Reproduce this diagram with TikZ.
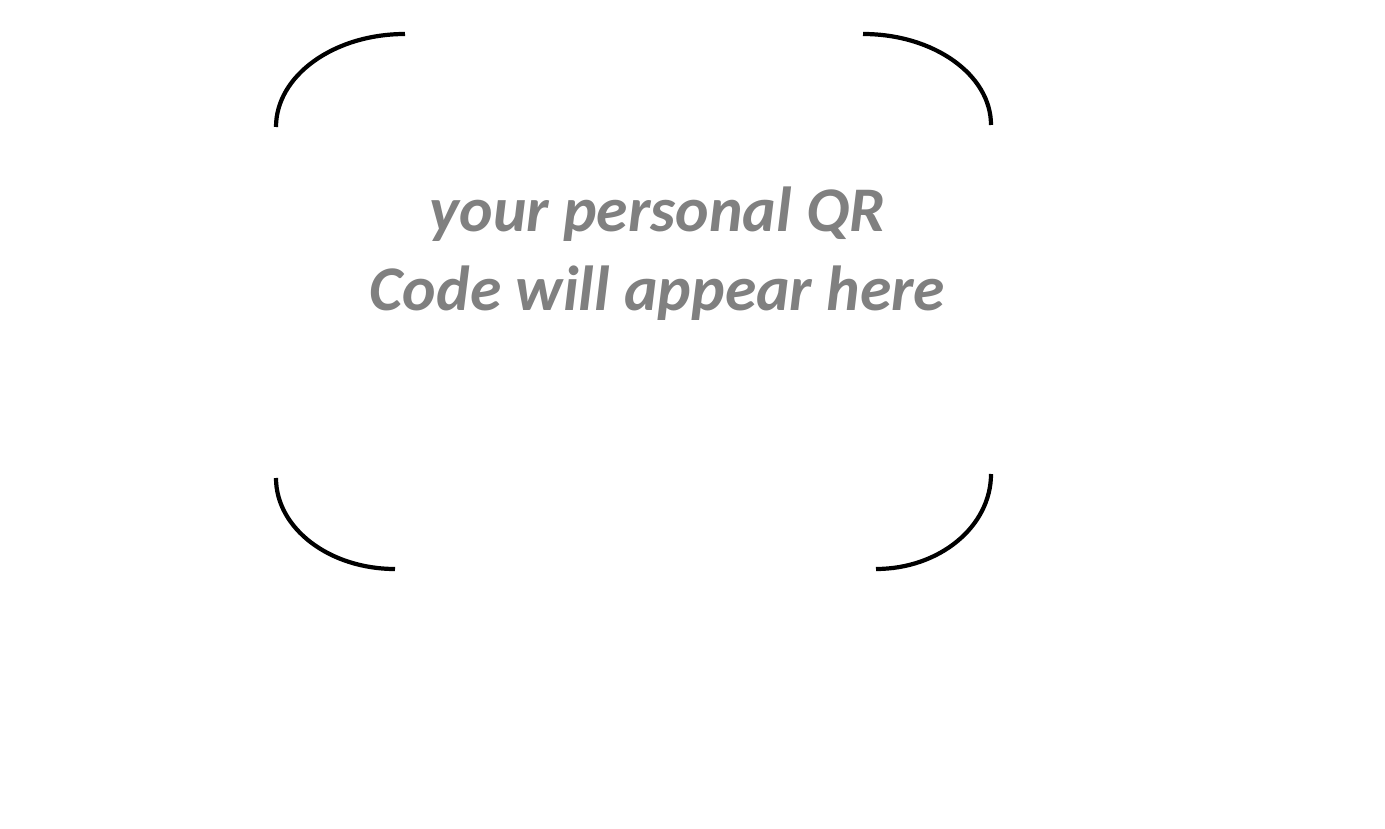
\documentclass[tikz,border=0pt]{standalone}
\usepackage{fontspec}
\setmainfont{Carlito}
\usepackage{tikz}

\begin{document}
\begin{tikzpicture}[corner/.style = {draw, line width=1.2pt},
                    label/.style = {text=black!50, font=\fontsize{18.1}{22.4}\selectfont\bfseries\itshape, align=center}]
                        \useasboundingbox (0,0) rectangle (13.85,8.28);

                        \coordinate (TL) at (2.76,7.01);
                        \coordinate (TR) at (8.63,7.94);
                        \coordinate (BR) at (9.91,3.54);
                        \coordinate (BL) at (3.95,2.59);

                        \draw[corner] (TL) arc (180:90:1.29 and 0.93);
                        \draw[corner] (TR) arc (90:0:1.28 and 0.91);
                        \draw[corner] (BR) arc (0:-90:1.15 and 0.95);
                        \draw[corner] (BL) arc (270:180:1.19 and 0.91);

                        \node[label] (Q) at (6.575,5.74) {your personal QR\\Code will appear here};
                    \end{tikzpicture}
\end{document}
